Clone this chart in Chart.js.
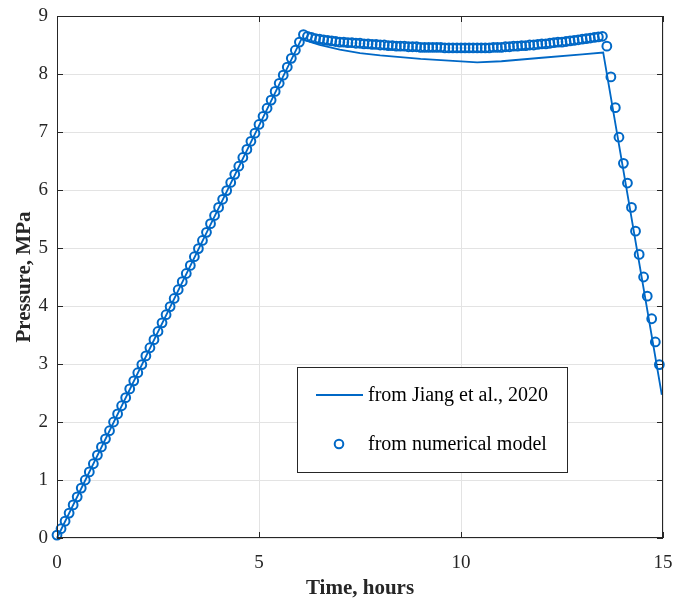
<!DOCTYPE html>
<html>
<head>
<meta charset="utf-8">
<script src="https://cdn.jsdelivr.net/npm/chart.js@4.4.1/dist/chart.umd.min.js"></script>
<style>
  html, body { margin: 0; padding: 0; background: #fff; }
  #wrap { width: 676px; height: 602px; }
</style>
</head>
<body>
<div id="wrap"><canvas id="pressureChart" width="676" height="602"></canvas></div>
<script>
// Jiang et al., 2020 curve (hours, MPa)
const jiangTime = [0, 6.05, 6.5, 7.0, 7.5, 8.0, 9.0, 10.4, 11.0, 12.0, 13.0, 13.52, 14.97];
const jiangPressure = [0, 8.6, 8.5, 8.42, 8.36, 8.32, 8.26, 8.2, 8.22, 8.28, 8.34, 8.37, 2.47];

// numerical model points (hours, MPa)
const modelTime = [
  0.0, 0.1, 0.2, 0.3, 0.4, 0.5, 0.6, 0.7, 0.8, 0.9,
  1.0, 1.1, 1.2, 1.3, 1.4, 1.5, 1.6, 1.7, 1.8, 1.9,
  2.0, 2.1, 2.2, 2.3, 2.4, 2.5, 2.6, 2.7, 2.8, 2.9,
  3.0, 3.1, 3.2, 3.3, 3.4, 3.5, 3.6, 3.7, 3.8, 3.9,
  4.0, 4.1, 4.2, 4.3, 4.4, 4.5, 4.6, 4.7, 4.8, 4.9,
  5.0, 5.1, 5.2, 5.3, 5.4, 5.5, 5.6, 5.7, 5.8, 5.9,
  6.0, 6.1, 6.2, 6.3, 6.4, 6.5, 6.6, 6.7, 6.8, 6.9,
  7.0, 7.1, 7.2, 7.3, 7.4, 7.5, 7.6, 7.7, 7.8, 7.9,
  8.0, 8.1, 8.2, 8.3, 8.4, 8.5, 8.6, 8.7, 8.8, 8.9,
  9.0, 9.1, 9.2, 9.3, 9.4, 9.5, 9.6, 9.7, 9.8, 9.9,
  10.0, 10.1, 10.2, 10.3, 10.4, 10.5, 10.6, 10.7, 10.8, 10.9,
  11.0, 11.1, 11.2, 11.3, 11.4, 11.5, 11.6, 11.7, 11.8, 11.9,
  12.0, 12.1, 12.2, 12.3, 12.4, 12.5, 12.6, 12.7, 12.8, 12.9,
  13.0, 13.1, 13.2, 13.3, 13.4, 13.5,
  13.61, 13.71, 13.82, 13.91, 14.02, 14.12, 14.22, 14.32, 14.41, 14.52,
  14.61, 14.72, 14.81, 14.91
];
const modelPressure = [
  0.05, 0.16, 0.29, 0.43, 0.57, 0.71, 0.86, 1.00, 1.14, 1.28,
  1.43, 1.57, 1.71, 1.85, 2.00, 2.14, 2.28, 2.42, 2.57, 2.71,
  2.85, 2.99, 3.14, 3.28, 3.42, 3.56, 3.71, 3.85, 3.99, 4.13,
  4.28, 4.42, 4.56, 4.70, 4.85, 4.99, 5.13, 5.27, 5.42, 5.56,
  5.70, 5.84, 5.99, 6.13, 6.27, 6.41, 6.56, 6.70, 6.84, 6.98,
  7.13, 7.27, 7.41, 7.55, 7.70, 7.84, 7.98, 8.12, 8.27, 8.41,
  8.55, 8.68, 8.65, 8.63, 8.61, 8.60, 8.59, 8.58, 8.57, 8.56,
  8.55, 8.55, 8.54, 8.54, 8.53, 8.53, 8.52, 8.52, 8.51, 8.51,
  8.50, 8.50, 8.49, 8.49, 8.48, 8.48, 8.48, 8.47, 8.47, 8.47,
  8.46, 8.46, 8.46, 8.46, 8.46, 8.46, 8.45, 8.45, 8.45, 8.45,
  8.45, 8.45, 8.45, 8.45, 8.45, 8.45, 8.45, 8.45, 8.46, 8.46,
  8.46, 8.47, 8.47, 8.48, 8.48, 8.49, 8.49, 8.50, 8.50, 8.51,
  8.52, 8.52, 8.53, 8.54, 8.55, 8.55, 8.56, 8.57, 8.58, 8.59,
  8.60, 8.61, 8.62, 8.63, 8.64, 8.65,
  8.48, 7.95, 7.42, 6.91, 6.46, 6.12, 5.70, 5.29, 4.89, 4.50,
  4.17, 3.78, 3.38, 2.99
];

const legendLabels = ['from Jiang et al., 2020', 'from numerical model'];

const blue = '#0068C6';
const axisColor = '#262626';
const serif = '"Liberation Serif", "Times New Roman", serif';

function toPoints(xs, ys){
  let pts = [];
  for(let i=0; i<xs.length; i++){
    pts.push({x: xs[i], y: ys[i]});
  }
  return pts;
}

// box round the axes, inward ticks on all four sides, and the inset legend
const matlabAxes = {
  id: 'matlabAxes',
  afterDraw(chart){
    const ctx = chart.ctx;
    const area = chart.chartArea;
    const xs = chart.scales.x, ys = chart.scales.y;
    const tick = 6;
    ctx.save();
    ctx.strokeStyle = axisColor;
    ctx.lineWidth = 1;
    ctx.strokeRect(area.left + 0.5, area.top + 0.5, area.right - area.left - 1, area.bottom - area.top - 1);
    ctx.beginPath();
    xs.ticks.forEach(t => {
      let px = Math.round(xs.getPixelForValue(t.value)) + 0.5;
      ctx.moveTo(px, area.bottom); ctx.lineTo(px, area.bottom - tick);
      ctx.moveTo(px, area.top); ctx.lineTo(px, area.top + tick);
    });
    ys.ticks.forEach(t => {
      let py = Math.round(ys.getPixelForValue(t.value)) + 0.5;
      ctx.moveTo(area.left, py); ctx.lineTo(area.left + tick, py);
      ctx.moveTo(area.right, py); ctx.lineTo(area.right - tick, py);
    });
    ctx.stroke();

    // legend
    let lx = 297, ly = 367, lw = 270, lh = 105;
    ctx.fillStyle = '#fff';
    ctx.fillRect(lx, ly, lw, lh);
    ctx.strokeStyle = axisColor;
    ctx.strokeRect(lx + 0.5, ly + 0.5, lw, lh);

    ctx.strokeStyle = blue;
    ctx.lineWidth = 1.8;
    ctx.beginPath();
    ctx.moveTo(316, 395); ctx.lineTo(363, 395);
    ctx.stroke();
    ctx.lineWidth = 2;
    ctx.beginPath();
    ctx.arc(339, 444, 4.3, 0, Math.PI * 2);
    ctx.stroke();

    ctx.fillStyle = '#000';
    ctx.font = '20px ' + serif;
    ctx.textBaseline = 'middle';
    ctx.textAlign = 'left';
    ctx.fillText(legendLabels[0], 368, 396);
    ctx.fillText(legendLabels[1], 368, 445);
    ctx.restore();
  }
};

let ctx = document.getElementById('pressureChart').getContext('2d');

let chart = new Chart(ctx, {
  type: 'scatter',
  data: {
    datasets: [{
      label: legendLabels[0],
      data: toPoints(jiangTime, jiangPressure),
      showLine: true,
      borderColor: blue,
      borderWidth: 1.8,
      pointRadius: 0,
      tension: 0,
      clip: false
    }, {
      label: legendLabels[1],
      data: toPoints(modelTime, modelPressure),
      showLine: false,
      borderColor: blue,
      backgroundColor: 'rgba(0,0,0,0)',
      borderWidth: 2,
      pointRadius: 4.4,
      clip: false
    }]
  },
  options: {
    responsive: false,
    animation: false,
    events: [],
    layout: {
      padding: {left: 0, right: 13, top: 16, bottom: 0}
    },
    plugins: {
      legend: {display: false},
      tooltip: {enabled: false}
    },
    scales: {
      x: {
        type: 'linear',
        min: 0,
        max: 15,
        afterFit: s => { s.height = 64; s.paddingLeft = 0; s.paddingRight = 0; },
        border: {display: false},
        grid: {color: '#e3e3e3', drawTicks: false},
        ticks: {
          stepSize: 5,
          padding: 14,
          color: axisColor,
          font: {family: serif, size: 19}
        },
        title: {
          display: true,
          text: 'Time, hours',
          color: axisColor,
          padding: {top: 0, bottom: 1},
          font: {family: serif, size: 21, weight: 'bold'}
        }
      },
      y: {
        type: 'linear',
        min: 0,
        max: 9,
        afterFit: s => { s.width = 57; s.paddingTop = 0; s.paddingBottom = 0; },
        border: {display: false},
        grid: {color: '#e3e3e3', drawTicks: false},
        ticks: {
          stepSize: 1,
          padding: 9,
          color: axisColor,
          font: {family: serif, size: 19}
        },
        title: {
          display: true,
          text: 'Pressure, MPa',
          color: axisColor,
          padding: {top: 12, bottom: 0},
          font: {family: serif, size: 21, weight: 'bold'}
        }
      }
    }
  },
  plugins: [matlabAxes]
});
</script>
</body>
</html>
